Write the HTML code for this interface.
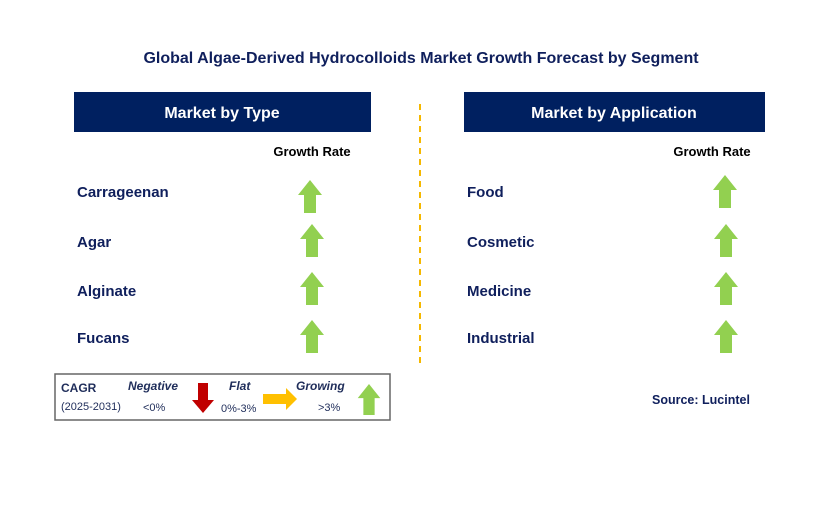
<!DOCTYPE html>
<html><head><meta charset="utf-8"><style>
body{margin:0;width:829px;height:516px;background:#fff;overflow:hidden;font-family:"Liberation Sans",Arial,sans-serif}
</style></head><body>
<svg width="829" height="516" xmlns="http://www.w3.org/2000/svg">
<defs>
<symbol id="up" viewBox="0 0 24 33"><polygon points="12,0 24,15 18,15 18,33 6,33 6,15 0,15" fill="#92d050"/></symbol>
</defs>
<text x="421" y="63" text-anchor="middle" font-size="16" font-weight="bold" fill="#0f1f5c">Global Algae-Derived Hydrocolloids Market Growth Forecast by Segment</text>
<rect x="74" y="92" width="297" height="40" fill="#002060"/>
<text x="222" y="118" text-anchor="middle" font-size="16" font-weight="bold" fill="#fff">Market by Type</text>
<rect x="464" y="92" width="301" height="40" fill="#002060"/>
<text x="614" y="118" text-anchor="middle" font-size="16" font-weight="bold" fill="#fff">Market by Application</text>
<line x1="420" y1="104" x2="420" y2="366" stroke="#f5b800" stroke-width="2" stroke-dasharray="6,5"/>
<text x="312" y="156" text-anchor="middle" font-size="13" font-weight="bold" fill="#000">Growth Rate</text>
<text x="712" y="156" text-anchor="middle" font-size="13" font-weight="bold" fill="#000">Growth Rate</text>
<g font-size="15" font-weight="bold" fill="#0f1f5c">
<text x="77" y="197">Carrageenan</text>
<text x="77" y="247">Agar</text>
<text x="77" y="296">Alginate</text>
<text x="77" y="343">Fucans</text>
<text x="467" y="197">Food</text>
<text x="467" y="247">Cosmetic</text>
<text x="467" y="296">Medicine</text>
<text x="467" y="343">Industrial</text>
</g>
<use href="#up" x="298" y="180" width="24" height="33"/>
<use href="#up" x="300" y="224" width="24" height="33"/>
<use href="#up" x="300" y="272" width="24" height="33"/>
<use href="#up" x="300" y="320" width="24" height="33"/>
<use href="#up" x="713" y="175" width="24" height="33"/>
<use href="#up" x="714" y="224" width="24" height="33"/>
<use href="#up" x="714" y="272" width="24" height="33"/>
<use href="#up" x="714" y="320" width="24" height="33"/>
<g>
<rect x="55" y="374" width="335" height="46" fill="#fff" stroke="#666" stroke-width="1.5"/>
<text x="61" y="392" font-size="12" font-weight="bold" fill="#1f2d5a">CAGR</text>
<text x="61" y="410" font-size="11" fill="#1f2d5a">(2025-2031)</text>
<text x="128" y="390" font-size="12" font-weight="bold" font-style="italic" fill="#1f2d5a">Negative</text>
<text x="143" y="411" font-size="11" fill="#1f2d5a">&lt;0%</text>
<polygon points="198,383 208,383 208,400 214,400 203,413 192,400 198,400" fill="#c00000"/>
<text x="229" y="390" font-size="12" font-weight="bold" font-style="italic" fill="#1f2d5a">Flat</text>
<text x="221" y="412" font-size="11" fill="#1f2d5a">0%-3%</text>
<polygon points="263,394 286,394 286,388 297,399 286,410 286,404 263,404" fill="#ffc000"/>
<text x="296" y="390" font-size="12" font-weight="bold" font-style="italic" fill="#1f2d5a">Growing</text>
<text x="318" y="411" font-size="11" fill="#1f2d5a">&gt;3%</text>
<use href="#up" x="357" y="384" width="24" height="31"/>
</g>
<text x="652" y="404" font-size="12.5" font-weight="bold" fill="#0f1f5c">Source: Lucintel</text>
</svg>
</body></html>
